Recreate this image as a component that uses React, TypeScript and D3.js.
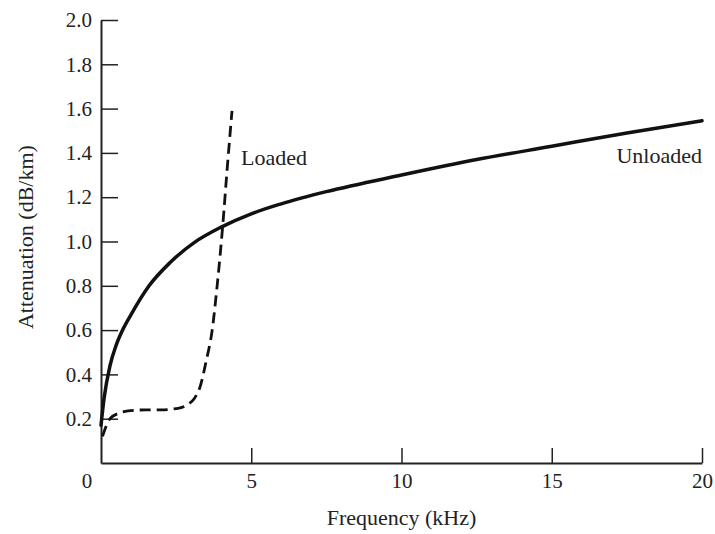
import { useRef, useEffect } from 'react';
import * as d3 from 'd3';

// values (kHz, dB/km)
const unloadedFreq = [0, 0.1, 0.3, 0.5, 0.7, 1.0, 1.6, 2.3, 3.1, 4.0, 5.0, 6.0, 7.5, 10, 12.5, 15, 17.5, 20];
const unloadedAtt = [0.17, 0.29, 0.44, 0.53, 0.595, 0.67, 0.8, 0.905, 0.995, 1.065, 1.125, 1.17, 1.225, 1.3, 1.37, 1.43, 1.49, 1.545];

const loadedFreq = [0.05, 0.3, 0.6, 0.9, 1.5, 2.0, 2.6, 2.9, 3.1, 3.3, 3.5, 3.7, 3.85, 4.05, 4.2, 4.36];
const loadedAtt = [0.12, 0.2, 0.225, 0.235, 0.24, 0.24, 0.248, 0.265, 0.29, 0.345, 0.46, 0.6, 0.78, 1.07, 1.33, 1.59];

const yTicks = [0.2, 0.4, 0.6, 0.8, 1.0, 1.2, 1.4, 1.6, 1.8, 2.0];
const xTicks = [5, 10, 15, 20];

const W = 715;
const H = 534;
const FONT = '"Liberation Serif", "Times New Roman", serif';

const App = () => {
  const svgRef = useRef<SVGSVGElement>(null);

  useEffect(() => {
    const svg = d3.select(svgRef.current);
    svg.selectAll('*').remove();

    const margin = { left: 101, top: 20, right: 13, bottom: 71 };
    const width = W - margin.left - margin.right;
    const height = H - margin.top - margin.bottom;

    const x = d3.scaleLinear().domain([0, 20]).range([0, width]);
    const y = d3.scaleLinear().domain([0, 2]).range([height, 0]);

    const g = svg.append('g').attr('transform', `translate(${margin.left},${margin.top})`);

    // y axis, ticks pointing inward
    const yAxis = g.append('g')
      .call(d3.axisLeft(y).tickValues(yTicks).tickFormat(d3.format('.1f')).tickSizeInner(-17).tickSizeOuter(0).tickPadding(9));
    yAxis.select('.domain').attr('stroke', '#222').attr('stroke-width', 2);
    yAxis.selectAll('line').attr('stroke', '#222').attr('stroke-width', 1.5);
    yAxis.selectAll('text').attr('font-family', FONT).attr('font-size', 21).attr('fill', '#222');

    // x axis, ticks pointing up
    const xAxis = g.append('g')
      .attr('transform', `translate(0,${height})`)
      .call(d3.axisBottom(x).tickValues(xTicks).tickSizeInner(-15).tickSizeOuter(0).tickPadding(10));
    xAxis.select('.domain').attr('stroke', '#222').attr('stroke-width', 2);
    xAxis.selectAll('line').attr('stroke', '#222').attr('stroke-width', 1.5);
    xAxis.selectAll('text').attr('font-family', FONT).attr('font-size', 21).attr('fill', '#222');

    g.append('text')
      .attr('x', x(0) - 14)
      .attr('y', height + 10)
      .attr('dy', '0.71em')
      .attr('text-anchor', 'middle')
      .attr('font-family', FONT)
      .attr('font-size', 21)
      .attr('fill', '#222')
      .text('0');

    const line = d3.line<[number, number]>()
      .x(d => x(d[0]))
      .y(d => y(d[1]))
      .curve(d3.curveMonotoneX);

    const unloaded = unloadedFreq.map((f, i) => [f, unloadedAtt[i]] as [number, number]);
    const loaded = loadedFreq.map((f, i) => [f, loadedAtt[i]] as [number, number]);

    g.append('path')
      .attr('d', line(unloaded))
      .attr('fill', 'none')
      .attr('stroke', '#111')
      .attr('stroke-width', 3.5)
      .attr('stroke-linecap', 'round');

    g.append('path')
      .attr('d', line(loaded))
      .attr('fill', 'none')
      .attr('stroke', '#111')
      .attr('stroke-width', 2.8)
      .attr('stroke-dasharray', '11,6');

    // curve labels
    g.append('text')
      .attr('x', x(4.66))
      .attr('y', y(1.345))
      .attr('font-family', FONT)
      .attr('font-size', 22)
      .attr('fill', '#222')
      .text('Loaded');

    g.append('text')
      .attr('x', x(20))
      .attr('y', y(1.355))
      .attr('text-anchor', 'end')
      .attr('font-family', FONT)
      .attr('font-size', 22)
      .attr('fill', '#222')
      .text('Unloaded');

    // axis titles
    svg.append('text')
      .attr('x', margin.left + x(10))
      .attr('y', 525)
      .attr('text-anchor', 'middle')
      .attr('font-family', FONT)
      .attr('font-size', 22)
      .attr('fill', '#222')
      .text('Frequency (kHz)');

    svg.append('text')
      .attr('transform', `translate(33,${margin.top + y(1.02)}) rotate(-90)`)
      .attr('text-anchor', 'middle')
      .attr('font-family', FONT)
      .attr('font-size', 22)
      .attr('fill', '#222')
      .text('Attenuation (dB/km)');
  }, []);

  return (
    <svg
      ref={svgRef}
      width={W}
      height={H}
      style={{ position: 'absolute', left: 0, top: 0, background: '#fff' }}
    />
  );
};

export default App;
